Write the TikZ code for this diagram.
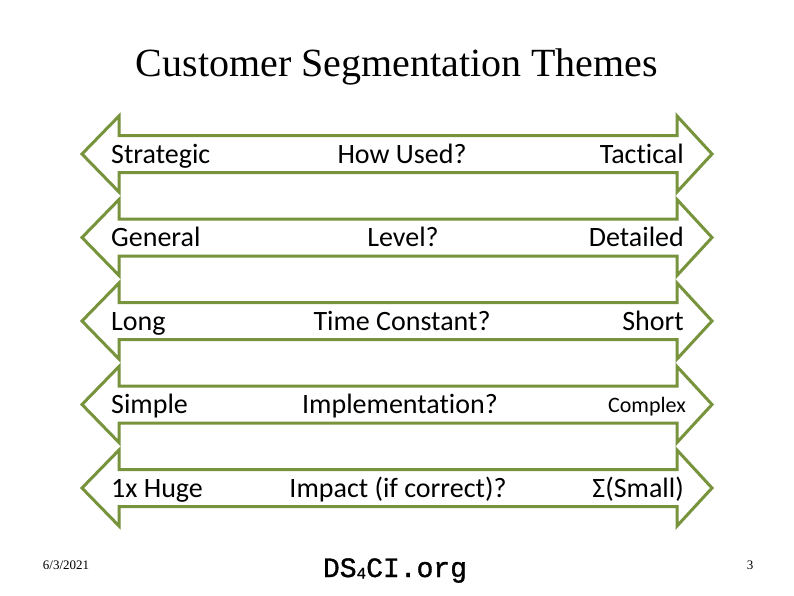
\documentclass[tikz,border=0pt]{standalone}
\usepackage{fontspec}
\setmainfont[Ligatures=NoCommon]{Carlito}
\newfontfamily\titlefont{Liberation Serif}
\newfontfamily\monofont[FakeBold=1.2]{Liberation Mono}
\definecolor{olive}{RGB}{119,147,60}
\begin{document}
\begin{tikzpicture}[x=1pt,y=-1pt,
  arr/.style={draw=olive,line width=3pt,fill=white,line join=miter},
  lbl/.style={inner sep=0pt,anchor=base,font=\fontsize{28}{32}\selectfont}]
\useasboundingbox[fill=white] (0,0) rectangle (794,595);
\node[font=\titlefont\fontsize{40}{46}\selectfont,anchor=base,inner sep=0pt] (title) at (397,76) {Customer Segmentation Themes};
\foreach \cy/\i in {154/1,237.5/2,321/3,404.5/4,488/5}{
  \draw[arr] (82,\cy) -- (119,\cy-38) -- (119,\cy-18.5) -- (677,\cy-18.5) -- (677,\cy-38)
    -- (712,\cy) -- (677,\cy+38) -- (677,\cy+18.5) -- (119,\cy+18.5) -- (119,\cy+38) -- cycle;
}
\node[lbl,anchor=base west] (l1) at (111,163) {Strategic};
\node[lbl] (m1) at (402,163) {How Used?};
\node[lbl,anchor=base east] (e1) at (684,163) {Tactical};
\node[lbl,anchor=base west] (l2) at (111,246.5) {General};
\node[lbl] (m2) at (403,246.5) {Level?};
\node[lbl,anchor=base east] (e2) at (684,246.5) {Detailed};
\node[lbl,anchor=base west] (l3) at (111,330) {Long};
\node[lbl] (m3) at (402,330) {Time Constant?};
\node[lbl,anchor=base east] (e3) at (684,330) {Short};
\node[lbl,anchor=base west] (l4) at (111,413.5) {Simple};
\node[lbl] (m4) at (400,413.5) {Implementation?};
\node[lbl,anchor=base east,font=\fontsize{22}{26}\selectfont] (e4) at (686,412) {Complex};
\node[lbl,anchor=base west] (l5) at (111,497) {1x Huge};
\node[lbl] (m5) at (398,497) {Impact (if correct)?};
\node[lbl,anchor=base east] (e5) at (684,497) {Σ(Small)};
\node[font=\titlefont\fontsize{13}{15}\selectfont] (date) at (66,565) {6/3/2021};
\node[font=\titlefont\fontsize{13}{15}\selectfont] (page) at (750,565) {3};
\node[font=\monofont\fontsize{28}{32}\selectfont,anchor=base,inner sep=0pt] (org) at (395,577) {DS\raisebox{-1.5pt}{\fontsize{16}{18}\selectfont 4}CI.org};
\end{tikzpicture}
\end{document}
